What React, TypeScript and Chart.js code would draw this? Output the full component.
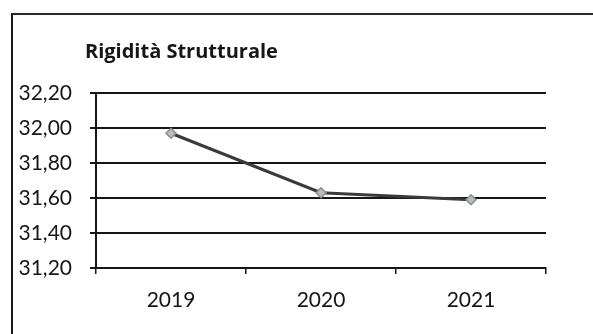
import React, { useEffect, useRef } from "react";
import { Chart, registerables } from "chart.js";

Chart.register(...registerables);

// Chart content
const TITLE = "Rigidità Strutturale";
const YEARS = ["2019", "2020", "2021"];
const RIGIDITA = [31.97, 31.63, 31.59];
const Y_MIN = 31.2;
const Y_MAX = 32.2;
const Y_STEP = 0.2;

const FONT = "Lato, 'Open Sans', sans-serif";
const TITLE_FONT = "'Open Sans', Lato, sans-serif";
const INK = "#161616";

// Draws the heading just left of the plot area's edge
const titlePlugin = {
  id: "leftTitle",
  afterDraw(chart: Chart) {
    const { ctx, chartArea } = chart;
    ctx.save();
    ctx.font = `bold 20px ${TITLE_FONT}`;
    ctx.fillStyle = INK;
    ctx.textAlign = "left";
    ctx.textBaseline = "middle";
    ctx.fillText(TITLE, chartArea.left - 11, 52);
    ctx.restore();
  },
};

export default function App() {
  const canvasRef = useRef<HTMLCanvasElement | null>(null);

  useEffect(() => {
    if (!canvasRef.current) return;
    const chart = new Chart(canvasRef.current, {
      type: "line",
      data: {
        labels: YEARS,
        datasets: [
          {
            label: TITLE,
            data: RIGIDITA,
            borderColor: "#363c39",
            borderWidth: 3,
            pointStyle: "rectRot",
            pointRadius: 5,
            pointBackgroundColor: "#b8bcba",
            pointBorderColor: "#8a8e8c",
            pointBorderWidth: 1.5,
            tension: 0,
          },
        ],
      },
      options: {
        animation: false,
        responsive: false,
        layout: { padding: { left: 0, right: 47, top: 93, bottom: 0 } },
        plugins: {
          legend: { display: false },
          title: { display: false },
          tooltip: { enabled: false },
        },
        scales: {
          x: {
            type: "category",
            offset: true,
            afterFit(scale: any) {
              scale.height = 66;
            },
            grid: {
              display: true,
              offset: true,
              drawOnChartArea: false,
              drawTicks: true,
              tickLength: 6,
              color: INK,
              lineWidth: 1.5,
            },
            border: { display: true, color: INK, width: 2 },
            ticks: {
              color: INK,
              font: { family: FONT, size: 21 },
              padding: 14,
              maxRotation: 0,
            },
          },
          y: {
            min: Y_MIN,
            max: Y_MAX,
            afterFit(scale: any) {
              scale.width = 96;
            },
            grid: {
              color: INK,
              lineWidth: 2,
              drawTicks: true,
              tickLength: 6,
            },
            border: { display: true, color: INK, width: 2 },
            ticks: {
              stepSize: Y_STEP,
              color: INK,
              font: { family: FONT, size: 21 },
              padding: 18,
              callback: (v: any) => Number(v).toFixed(2).replace(".", ","),
            },
          },
        },
      },
      plugins: [titlePlugin],
    });
    return () => chart.destroy();
  }, []);

  return (
    <div
      style={{
        position: "fixed",
        left: 0,
        top: 0,
        width: 593,
        height: 334,
        background: "#fff",
        overflow: "hidden",
      }}
    >
      <div
        style={{
          position: "absolute",
          left: 11,
          top: 13,
          width: 590,
          height: 330,
          borderLeft: "2px solid #1a1a1a",
          borderTop: "2px solid #2a2a2a",
        }}
      />
      <canvas
        ref={canvasRef}
        width={593}
        height={334}
        style={{ position: "absolute", left: 0, top: 0 }}
      />
    </div>
  );
}
